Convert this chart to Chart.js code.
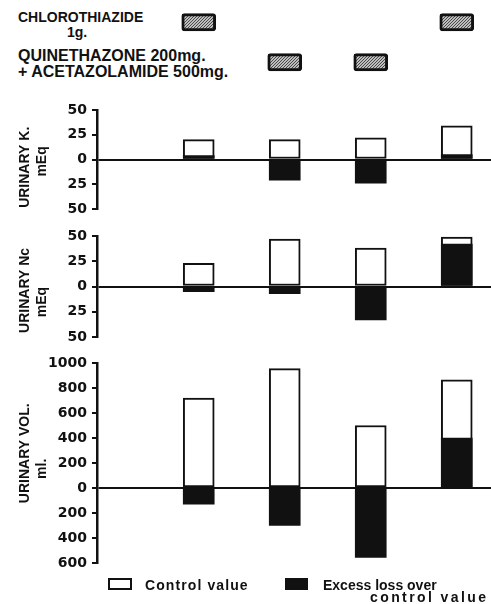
<!DOCTYPE html>
<html>
<head>
<meta charset="utf-8">
<title>Urinary K, Na and volume</title>
<script src="https://cdn.jsdelivr.net/npm/chart.js@4.4.1/dist/chart.umd.min.js"></script>
<style>
  html, body { margin: 0; padding: 0; background: #fff; }
  #wrap { position: relative; width: 491px; height: 604px; overflow: hidden; }
  #wrap canvas { position: absolute; left: 0; }
  .txt { position: absolute; font-family: 'Liberation Sans', Arial, sans-serif; font-weight: bold; white-space: nowrap; color: #111; }
  .box { position: absolute; box-sizing: border-box; border: 2px solid #111; }
</style>
</head>
<body>
<div id="wrap">
  <div class="txt" style="left:18px; top:10px; font-size:14px; line-height:14px;">CHLOROTHIAZIDE</div>
  <div class="txt" style="left:67px; top:25px; font-size:14px; line-height:14px;">1g.</div>
  <div class="txt" style="left:18px; top:48px; font-size:16px; line-height:16px;">QUINETHAZONE 200mg.</div>
  <div class="txt" style="left:18px; top:64px; font-size:16px; line-height:16px;">+ ACETAZOLAMIDE 500mg.</div>

  <canvas id="drugs" width="500" height="80" style="top:0px"></canvas>
  <canvas id="kChart" width="500" height="131" style="top:94px"></canvas>
  <canvas id="naChart" width="500" height="133" style="top:220px"></canvas>
  <canvas id="volChart" width="500" height="232" style="top:347px"></canvas>

  <div class="box" style="left:108px; top:578px; width:24px; height:12px; background:#fff;"></div>
  <div class="txt" style="left:145px; top:578px; font-size:14px; line-height:14px; letter-spacing:1.1px;">Control value</div>
  <div class="box" style="left:285px; top:578px; width:23px; height:12px; background:#111;"></div>
  <div class="txt" style="left:323px; top:578px; font-size:14px; line-height:14px;">Excess loss over</div>
  <div class="txt" style="left:370px; top:590px; font-size:14px; line-height:14px; letter-spacing:2.4px;">control value</div>
</div>

<script>
// treatment periods (one bar per period)
var periods = [1, 2, 3, 4];

// which drug was given in each period
var chlorothiazide = [1, 0, 0, 1];
var quinethazone = [0, 1, 1, 0];

// urinary K, mEq
var kControl = [20, 20, 22, 34];
var kExcess = [4, -21, -24, 5];

// urinary Na, mEq
var naControl = [23, 47, 38, 49];
var naExcess = [-5, -7, -33, 42];

// urinary volume, ml
var volControl = [720, 955, 500, 865];
var volExcess = [-130, -300, -555, 400];

var xRange = { min: 0.11, max: 4.21 };

function toXY(vals) {
    return periods.map(function (p, i) { return { x: p, y: vals[i] }; });
}

function panel(id, control, excess, min, max, step, title) {
    return new Chart(document.getElementById(id), {
        type: 'bar',
        data: {
            datasets: [{
                label: 'Excess loss over control value',
                data: toXY(excess),
                backgroundColor: '#111',
                borderWidth: 0,
                barThickness: 31,
                grouped: false,
                order: 0
            }, {
                label: 'Control value',
                data: toXY(control),
                backgroundColor: '#fff',
                borderColor: '#111',
                borderWidth: 2,
                borderSkipped: false,
                barThickness: 31,
                grouped: false,
                order: 1
            }]
        },
        options: {
            responsive: false,
            animation: false,
            layout: { padding: { top: 16, bottom: 16, left: 0, right: 0 } },
            plugins: { legend: { display: false }, tooltip: { enabled: false } },
            scales: {
                x: { type: 'linear', min: xRange.min, max: xRange.max, display: false },
                y: {
                    min: min,
                    max: max,
                    border: { display: true, color: '#111', width: 2.5 },
                    grid: {
                        color: function (c) { return c.tick && c.tick.value === 0 ? '#111' : 'rgba(0,0,0,0)'; },
                        lineWidth: 2,
                        tickColor: '#111',
                        tickLength: 5,
                        tickWidth: 2
                    },
                    ticks: {
                        stepSize: step,
                        autoSkip: false,
                        padding: 5,
                        color: '#111',
                        font: { family: 'DejaVu Sans', weight: 'bold', size: 14 },
                        callback: function (v) { return Math.abs(v); }
                    },
                    title: {
                        display: true,
                        text: title,
                        color: '#111',
                        font: { family: 'Liberation Sans', weight: 'bold', size: 14, lineHeight: 1.25 },
                        padding: { top: 16, bottom: 0 }
                    },
                    afterFit: function (s) { s.width = 97; }
                }
            }
        }
    });
}

// hatched fill for the drug markers
var pc = document.createElement('canvas');
pc.width = 3; pc.height = 3;
var g = pc.getContext('2d');
g.fillStyle = '#bdbdbd';
g.fillRect(0, 0, 3, 3);
g.fillStyle = '#4a4a4a';
for (var i = 0; i < 3; i++) { g.fillRect(i, 2 - i, 1, 1); }
var hatch = g.createPattern(pc, 'repeat');

function drugBand(given, row) {
    return periods.filter(function (p, i) { return given[i]; })
        .map(function (p) { return { x: p, y: [row - 0.21, row + 0.22] }; });
}

var drugStyle = {
    backgroundColor: hatch,
    borderColor: '#111',
    borderWidth: 3,
    borderRadius: 3,
    borderSkipped: false,
    barThickness: 34,
    grouped: false
};

new Chart(document.getElementById('drugs'), {
    type: 'bar',
    data: {
        datasets: [
            Object.assign({ label: 'Chlorothiazide 1g.', data: drugBand(chlorothiazide, 0) }, drugStyle),
            Object.assign({ label: 'Quinethazone 200mg. + Acetazolamide 500mg.', data: drugBand(quinethazone, 1) }, drugStyle)
        ]
    },
    options: {
        responsive: false,
        animation: false,
        layout: { padding: { top: 0, bottom: 0, left: 97, right: 0 } },
        plugins: { legend: { display: false }, tooltip: { enabled: false } },
        scales: {
            x: { type: 'linear', min: xRange.min, max: xRange.max, display: false },
            y: { min: -0.55, max: 1.45, reverse: true, display: false }
        }
    }
});

panel('kChart', kControl, kExcess, -50, 50, 25, ['URINARY K.    ', 'mEq ']);
panel('naChart', naControl, naExcess, -50, 50, 25, ['URINARY Nc  ', 'mEq        ']);
panel('volChart', volControl, volExcess, -600, 1000, 200, ['     URINARY VOL.', 'ml.   ']);
</script>
</body>
</html>
